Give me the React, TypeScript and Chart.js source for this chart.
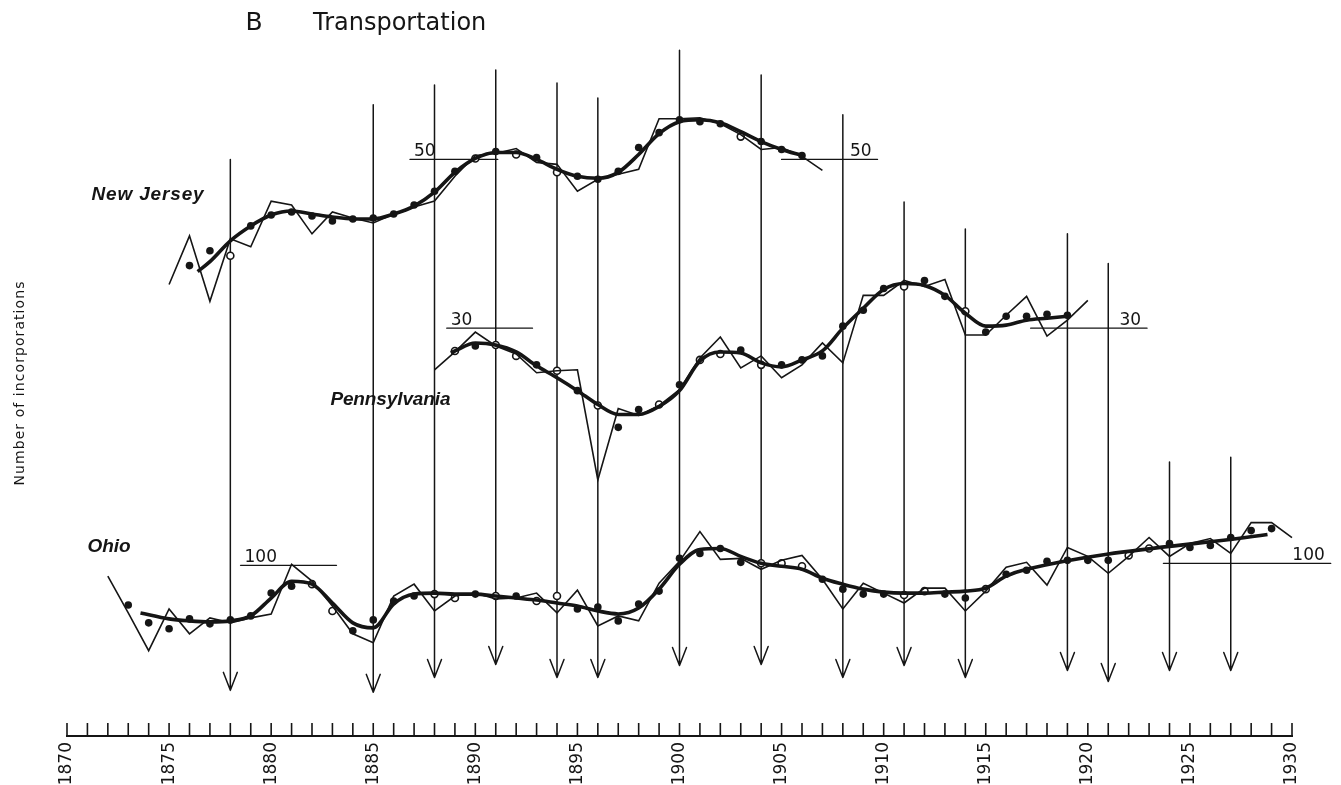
import React, { useEffect, useRef } from "react";
import { Chart, registerables } from "chart.js";

Chart.register(...registerables);

// ---------------- axis ----------------
const X_MIN = 1870;
const X_MAX = 1930;
const LABEL_EVERY = 5;

// ---------------- New Jersey ----------------
const njRawStart = 1875;
const njRaw = [460, 509, 443, 506, 498, 544, 540, 511, 533, 527, 522, 531, 538, 544, 569, 590, 592, 597, 583, 581, 554, 566, 571, 576, 627, 627, 628, 622, 611, 596, 598, 589, 575];
const njTrendYears = [1876.4, 1877, 1878, 1879, 1880, 1881, 1882, 1883, 1884, 1885, 1886, 1887, 1888, 1889, 1890, 1891, 1892, 1893, 1894, 1895, 1896, 1897, 1898, 1899, 1900, 1901, 1902, 1903, 1904, 1905, 1906];
const njTrend = [473, 483, 504, 519, 530, 534, 531, 528, 526, 526, 531, 539, 553, 573, 587, 593, 593, 586, 576, 569, 567, 573, 591, 612, 624, 626, 623, 614, 604, 596, 590];
const njDotYears = [1876, 1877, 1879, 1880, 1881, 1882, 1883, 1884, 1885, 1886, 1887, 1888, 1889, 1891, 1893, 1895, 1896, 1897, 1898, 1899, 1900, 1901, 1902, 1904, 1905, 1906];
const njDots = [479, 494, 519, 530, 533, 529, 524, 526, 527, 531, 540, 554, 574, 594, 588, 569, 566, 574, 598, 613, 626, 624, 622, 604, 596, 590];
const njOpenYears = [1878, 1890, 1892, 1894, 1903];
const njOpen = [489, 587, 591, 573, 609];

// ---------------- Pennsylvania ----------------
const paRawStart = 1888;
const paRaw = [374, 392, 412, 398, 390, 371, 373, 374, 263, 335, 328, 338, 354, 386, 407, 376, 388, 366, 379, 401, 381, 449, 449, 464, 458, 465, 409, 409, 429, 448, 408, 424, 444];
const paTrendYears = [1888.8, 1889, 1890, 1891, 1892, 1893, 1894, 1895, 1896, 1897, 1898, 1899, 1900, 1901, 1902, 1903, 1904, 1905, 1906, 1907, 1908, 1909, 1910, 1911, 1912, 1913, 1914, 1915, 1916, 1917, 1918, 1919];
const paTrend = [391, 393, 401, 399, 392, 378, 366, 353, 339, 329, 329, 337, 353, 383, 392, 391, 381, 377, 384, 393, 416, 436, 455, 461, 459, 449, 431, 418, 419, 424, 426, 428];
const paDotYears = [1890, 1893, 1895, 1897, 1898, 1900, 1903, 1905, 1906, 1907, 1908, 1909, 1910, 1912, 1913, 1915, 1916, 1917, 1918, 1919];
const paDots = [398, 379, 353, 316, 334, 359, 394, 379, 384, 388, 418, 434, 456, 464, 448, 412, 428, 428, 430, 429];
const paOpenYears = [1889, 1891, 1892, 1894, 1896, 1899, 1901, 1902, 1904, 1911, 1914];
const paOpen = [393, 399, 388, 373, 338, 339, 384, 390, 379, 458, 433];

// ---------------- Ohio ----------------
const ohRawStart = 1872;
const ohRaw = [166, 129, 91, 133, 108, 124, 119, 124, 128, 178, 161, 136, 108, 99, 146, 158, 131, 146, 149, 143, 144, 149, 129, 152, 116, 126, 121, 159, 181, 211, 183, 184, 173, 182, 187, 163, 133, 159, 149, 139, 154, 154, 131, 151, 175, 180, 157, 195, 186, 169, 186, 205, 186, 199, 204, 189, 220, 220, 205];
const ohTrendYears = [1873.6, 1875, 1876, 1877, 1878, 1879, 1880, 1881, 1882, 1883, 1884, 1885, 1886, 1887, 1888, 1889, 1890, 1891, 1892, 1893, 1894, 1895, 1896, 1897, 1898, 1899, 1900, 1901, 1902, 1903, 1904, 1905, 1906, 1907, 1908, 1909, 1910, 1911, 1912, 1913, 1914, 1915, 1916, 1917, 1928.8];
const ohTrend = [129, 123, 121, 120, 121, 126, 144, 161, 158, 139, 119, 114, 138, 148, 149, 148, 148, 146, 144, 142, 139, 136, 131, 128, 134, 153, 178, 193, 194, 186, 179, 176, 173, 164, 158, 153, 150, 149, 149, 150, 151, 154, 166, 173, 208];
const ohDotYears = [1873, 1874, 1875, 1876, 1877, 1878, 1879, 1880, 1881, 1884, 1885, 1886, 1887, 1890, 1892, 1895, 1896, 1897, 1898, 1899, 1900, 1901, 1902, 1903, 1907, 1908, 1909, 1910, 1913, 1914, 1916, 1917, 1918, 1919, 1920, 1921, 1924, 1925, 1926, 1927, 1928, 1929];
const ohDots = [137, 119, 113, 123, 118, 122, 126, 149, 156, 111, 122, 141, 146, 148, 146, 133, 135, 121, 138, 151, 184, 189, 194, 180, 163, 153, 148, 148, 148, 144, 168, 172, 181, 182, 182, 182, 199, 195, 197, 205, 212, 214];
const ohOpenYears = [1882, 1883, 1888, 1889, 1891, 1893, 1894, 1904, 1905, 1906, 1911, 1912, 1915, 1922, 1923];
const ohOpen = [158, 131, 148, 144, 146, 141, 146, 179, 179, 176, 147, 151, 153, 187, 194];

// ---------------- turning-point arrows ----------------
const arrowYears = [1878, 1885, 1888, 1891, 1894, 1896, 1900, 1904, 1908, 1911, 1914, 1919, 1921, 1924, 1927];
const arrowTops = [586, 641, 661, 676, 663, 648, 696, 671, 631, 543, 516, 511, 481, 281, 286];
const arrowTips = [51, 49, 64, 77, 64, 64, 76, 77, 64, 76, 64, 71, 60, 71, 71];

// ---------------- reference levels ----------------
const refTexts = ["50", "50", "30", "30", "100", "100"];
const refLevels = [586, 586, 416, 416, 177, 179];
const refFrom = [1886.8, 1905.0, 1888.6, 1917.2, 1878.5, 1923.7];
const refTo = [1891.1, 1909.7, 1892.8, 1922.9, 1883.2, 1931.9];
const refSide = ["start", "end", "start", "end", "start", "end"];

// ---------------- text labels ----------------
const seriesNames = ["New Jersey", "Pennsylvania", "Ohio"];
const nameAnchors = [
  { year: 1871.2, level: 550, width: 113 },
  { year: 1882.9, level: 344, width: 120 },
  { year: 1871.0, level: 196, width: 0 },
];
const TITLE_LETTER = "B";
const TITLE_TEXT = "Transportation";
const Y_TITLE = "Number of incorporations";

const INK = "#151515";
const FONT = '"DejaVu Sans", "Liberation Sans", sans-serif';
const NAME_FONT = '"Liberation Sans", Arial, sans-serif';

const pts = (years: number[], vals: number[]) => years.map((x, i) => ({ x, y: vals[i] }));
const seq = (start: number, vals: number[]) => vals.map((y, i) => ({ x: start + i, y }));

function drawSpaced(ctx: CanvasRenderingContext2D, text: string, x: number, y: number, width: number) {
  (ctx as any).letterSpacing = "0px";
  if (width > 0) {
    const w = ctx.measureText(text).width;
    const sp = (width - w) / Math.max(1, text.length);
    (ctx as any).letterSpacing = sp.toFixed(2) + "px";
  }
  ctx.fillText(text, x, y);
  (ctx as any).letterSpacing = "0px";
}

const underlay = {
  id: "underlay",
  beforeDatasetsDraw(chart: any) {
    const { ctx, scales } = chart;
    const xs = scales.x;
    const ys = scales.y;
    ctx.save();
    ctx.strokeStyle = INK;
    ctx.lineCap = "round";
    ctx.lineJoin = "round";
    // arrows
    ctx.lineWidth = 1.5;
    arrowYears.forEach((yr, i) => {
      const px = xs.getPixelForValue(yr);
      const top = ys.getPixelForValue(arrowTops[i]);
      const tip = ys.getPixelForValue(arrowTips[i]);
      ctx.beginPath();
      ctx.moveTo(px, top);
      ctx.lineTo(px, tip);
      ctx.moveTo(px - 7, tip - 18);
      ctx.lineTo(px, tip);
      ctx.lineTo(px + 7, tip - 18);
      ctx.stroke();
    });
    // reference levels
    ctx.lineWidth = 1.3;
    ctx.fillStyle = INK;
    ctx.font = `17px ${FONT}`;
    ctx.textBaseline = "alphabetic";
    refTexts.forEach((t, i) => {
      const x0 = xs.getPixelForValue(refFrom[i]);
      const x1 = xs.getPixelForValue(refTo[i]);
      const py = ys.getPixelForValue(refLevels[i]);
      ctx.beginPath();
      ctx.moveTo(x0, py);
      ctx.lineTo(x1, py);
      ctx.stroke();
      if (refSide[i] === "start") {
        ctx.textAlign = "left";
        ctx.fillText(t, x0 + 4, py - 3);
      } else {
        ctx.textAlign = "right";
        ctx.fillText(t, x1 - 6, py - 3);
      }
    });
    ctx.restore();
  },
  afterDraw(chart: any) {
    const { ctx, scales, chartArea } = chart;
    const xs = scales.x;
    const ys = scales.y;
    ctx.save();
    ctx.strokeStyle = INK;
    ctx.fillStyle = INK;
    // upward ticks on the year axis
    ctx.lineWidth = 1.6;
    for (let yr = X_MIN; yr <= X_MAX; yr++) {
      const px = xs.getPixelForValue(yr);
      ctx.beginPath();
      ctx.moveTo(px, chartArea.bottom);
      ctx.lineTo(px, chartArea.bottom - 13);
      ctx.stroke();
    }
    // series names
    ctx.font = `italic bold 19px ${NAME_FONT}`;
    ctx.textAlign = "left";
    ctx.textBaseline = "middle";
    seriesNames.forEach((name, i) => {
      const a = nameAnchors[i];
      drawSpaced(ctx, name, xs.getPixelForValue(a.year), ys.getPixelForValue(a.level), a.width);
    });
    // title
    ctx.textBaseline = "middle";
    ctx.textAlign = "center";
    ctx.font = `25px ${FONT}`;
    ctx.fillText(TITLE_LETTER, 254, 23);
    ctx.textAlign = "left";
    ctx.font = `24px ${FONT}`;
    ctx.fillText(TITLE_TEXT, 313, 24);
    // y title
    ctx.save();
    ctx.translate(20, 383);
    ctx.rotate(-Math.PI / 2);
    ctx.font = `14px ${FONT}`;
    ctx.textAlign = "center";
    ctx.textBaseline = "middle";
    drawSpaced(ctx, Y_TITLE, 0, 0, 205);
    ctx.restore();
    ctx.restore();
  },
};

const rawStyle = { borderColor: INK, borderWidth: 1.6, pointRadius: 0, tension: 0, fill: false, clip: false as any };
const trendStyle = { borderColor: INK, borderWidth: 3.6, pointRadius: 0, cubicInterpolationMode: "monotone" as const, fill: false, clip: false as any };
const dotStyle = { showLine: false, pointRadius: 3.8, pointBackgroundColor: INK, pointBorderColor: INK, pointBorderWidth: 0, clip: false as any };
const openStyle = { showLine: false, pointRadius: 3.5, pointBackgroundColor: "#ffffff", pointBorderColor: INK, pointBorderWidth: 1.6, clip: false as any };

export default function App() {
  const ref = useRef<HTMLCanvasElement | null>(null);
  useEffect(() => {
    if (!ref.current) return;
    const chart = new Chart(ref.current, {
      type: "line",
      data: {
        datasets: [
          { label: "New Jersey raw", data: seq(njRawStart, njRaw), ...rawStyle },
          { label: "Pennsylvania raw", data: seq(paRawStart, paRaw), ...rawStyle },
          { label: "Ohio raw", data: seq(ohRawStart, ohRaw), ...rawStyle },
          { label: "New Jersey trend", data: pts(njTrendYears, njTrend), ...trendStyle },
          { label: "Pennsylvania trend", data: pts(paTrendYears, paTrend), ...trendStyle },
          { label: "Ohio trend", data: pts(ohTrendYears, ohTrend), ...trendStyle },
          { label: "New Jersey avg", data: pts(njDotYears, njDots), ...dotStyle },
          { label: "Pennsylvania avg", data: pts(paDotYears, paDots), ...dotStyle },
          { label: "Ohio avg", data: pts(ohDotYears, ohDots), ...dotStyle },
          { label: "New Jersey avg (open)", data: pts(njOpenYears, njOpen), ...openStyle },
          { label: "Pennsylvania avg (open)", data: pts(paOpenYears, paOpen), ...openStyle },
          { label: "Ohio avg (open)", data: pts(ohOpenYears, ohOpen), ...openStyle },
        ] as any,
      },
      options: {
        animation: false,
        responsive: false,
        devicePixelRatio: 1,
        parsing: false as any,
        layout: { padding: { left: 67, right: 49, top: 0, bottom: 0 } },
        plugins: { legend: { display: false }, tooltip: { enabled: false }, title: { display: false } },
        scales: {
          x: {
            type: "linear",
            min: X_MIN,
            max: X_MAX,
            grid: { display: true, drawOnChartArea: false, drawTicks: false },
            border: { display: true, color: INK, width: 2 },
            ticks: {
              stepSize: 1,
              autoSkip: false,
              minRotation: 90,
              maxRotation: 90,
              padding: 6,
              color: INK,
              font: { family: FONT, size: 17 },
              callback: (v: any) => (Number(v) % LABEL_EVERY === 0 ? String(v) : ""),
            },
            afterFit: (s: any) => {
              s.height = 49;
            },
          },
          y: { type: "linear", display: false, min: 5, max: 741 },
        },
      },
      plugins: [underlay],
    });
    return () => chart.destroy();
  }, []);
  return (
    <div style={{ position: "fixed", left: 0, top: 0, width: 1341, height: 785, background: "#fff" }}>
      <canvas ref={ref} width={1341} height={785} />
    </div>
  );
}
